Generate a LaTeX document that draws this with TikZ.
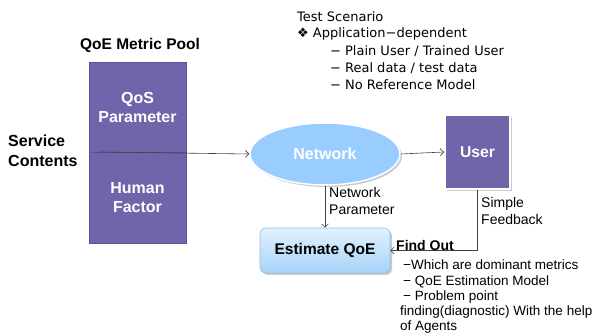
\documentclass[tikz,border=0pt]{standalone}
\usepackage{fontspec}
\setmainfont{Liberation Sans}
\newfontfamily\djv{DejaVu Sans}
\usetikzlibrary{shadows,arrows.meta,shapes.geometric}
\definecolor{purp}{RGB}{113,100,170}
\definecolor{purpline}{RGB}{92,80,150}
\definecolor{netblue}{RGB}{153,204,255}
\definecolor{esttop}{RGB}{226,241,255}
\definecolor{estbot}{RGB}{166,211,248}
\definecolor{estline}{RGB}{140,190,235}
\begin{document}
\begin{tikzpicture}[x=1pt,y=-1pt,
  arr/.style={draw=black!75,line width=0.6pt,-{Straight Barb[length=3.5pt,width=7pt]}},
  colbox/.style={rectangle,fill=purp,draw=purpline,line width=0.8pt,minimum width=97pt,
    text=white,font=\bfseries\fontsize{16}{19}\selectfont,align=center,inner sep=0pt},
  shad/.style={drop shadow={shadow xshift=2pt,shadow yshift=-2pt,opacity=0.35,fill=black!60}},
  lab/.style={font=\fontsize{14}{17}\selectfont,align=left,inner sep=0pt},
  blab/.style={font=\bfseries\fontsize{16}{20}\selectfont,align=left,inner sep=0pt},
  toptxt/.style={font=\djv\fontsize{13}{17}\selectfont,anchor=west,inner sep=0pt}]
\useasboundingbox (0,0) rectangle (598,336);

% column
\node[colbox,minimum height=90pt] (qos) at (137.5,107) {QoS\\Parameter};
\node[colbox,minimum height=91pt] (hum) at (137.5,197.5) {Human\\Factor};
\node[font=\bfseries\fontsize{15.5}{18}\selectfont,inner sep=0pt] (pool) at (140,45) {QoE Metric Pool};
\node[blab,anchor=west] (svc) at (8,151) {Service\\Contents};

% network ellipse
\node[ellipse,fill=netblue,draw=white,line width=1.5pt,minimum width=150pt,minimum height=62pt,
  shad,text=white,font=\bfseries\fontsize{16}{19}\selectfont] (net) at (325,154) {Network};
% user
\node[rectangle,fill=purp,draw=white,line width=1.8pt,minimum width=65pt,minimum height=74pt,
  shad,text=white,font=\bfseries\fontsize{15.7}{19}\selectfont] (user) at (477.5,152) {User};
% estimate
\node[rectangle,rounded corners=6pt,top color=esttop,bottom color=estbot,draw=estline,line width=0.6pt,
  minimum width=130pt,minimum height=45pt,shad,font=\bfseries\fontsize{15.5}{18}\selectfont] (est) at (325,250.5) {Estimate QoE};

% connectors
\coordinate (sc) at (100,152);
\draw[arr] (sc) -- (net.west);
\draw[arr] (net.east) -- (user.west);
\draw[arr] (net.south) -- (est.north);
\draw[arr] (user.south) |- (est.east);

% labels
\node[lab,anchor=north west] (np) at (329,187) {Network\\Parameter};
\node[lab,anchor=north west] (sf) at (481,197) {Simple\\Feedback};
\node[font=\bfseries\fontsize{14}{17}\selectfont,anchor=west,inner sep=0pt] (fo) at (396,245) {Find Out};

\node[font=\fontsize{13.5}{15.25}\selectfont,align=left,anchor=north west,inner sep=0pt] (list) at (400,260)
  {\hspace*{3pt}−Which are dominant metrics\\
   \hspace*{3pt}− QoE Estimation Model\\
   \hspace*{3pt}− Problem point\\
   finding(diagnostic) With the help\\
   of Agents};

% top text
\node[toptxt] (ts) at (297,17) {Test Scenario};
\node[toptxt] (ad) at (297,34) {❖ Application−dependent};
\node[toptxt] (i1) at (330,51) {−\hspace{4pt}Plain User / Trained User};
\node[toptxt] (i2) at (330,68) {−\hspace{4pt}Real data / test data};
\node[toptxt] (i3) at (330,85) {−\hspace{4pt}No Reference Model};
\end{tikzpicture}
\end{document}
